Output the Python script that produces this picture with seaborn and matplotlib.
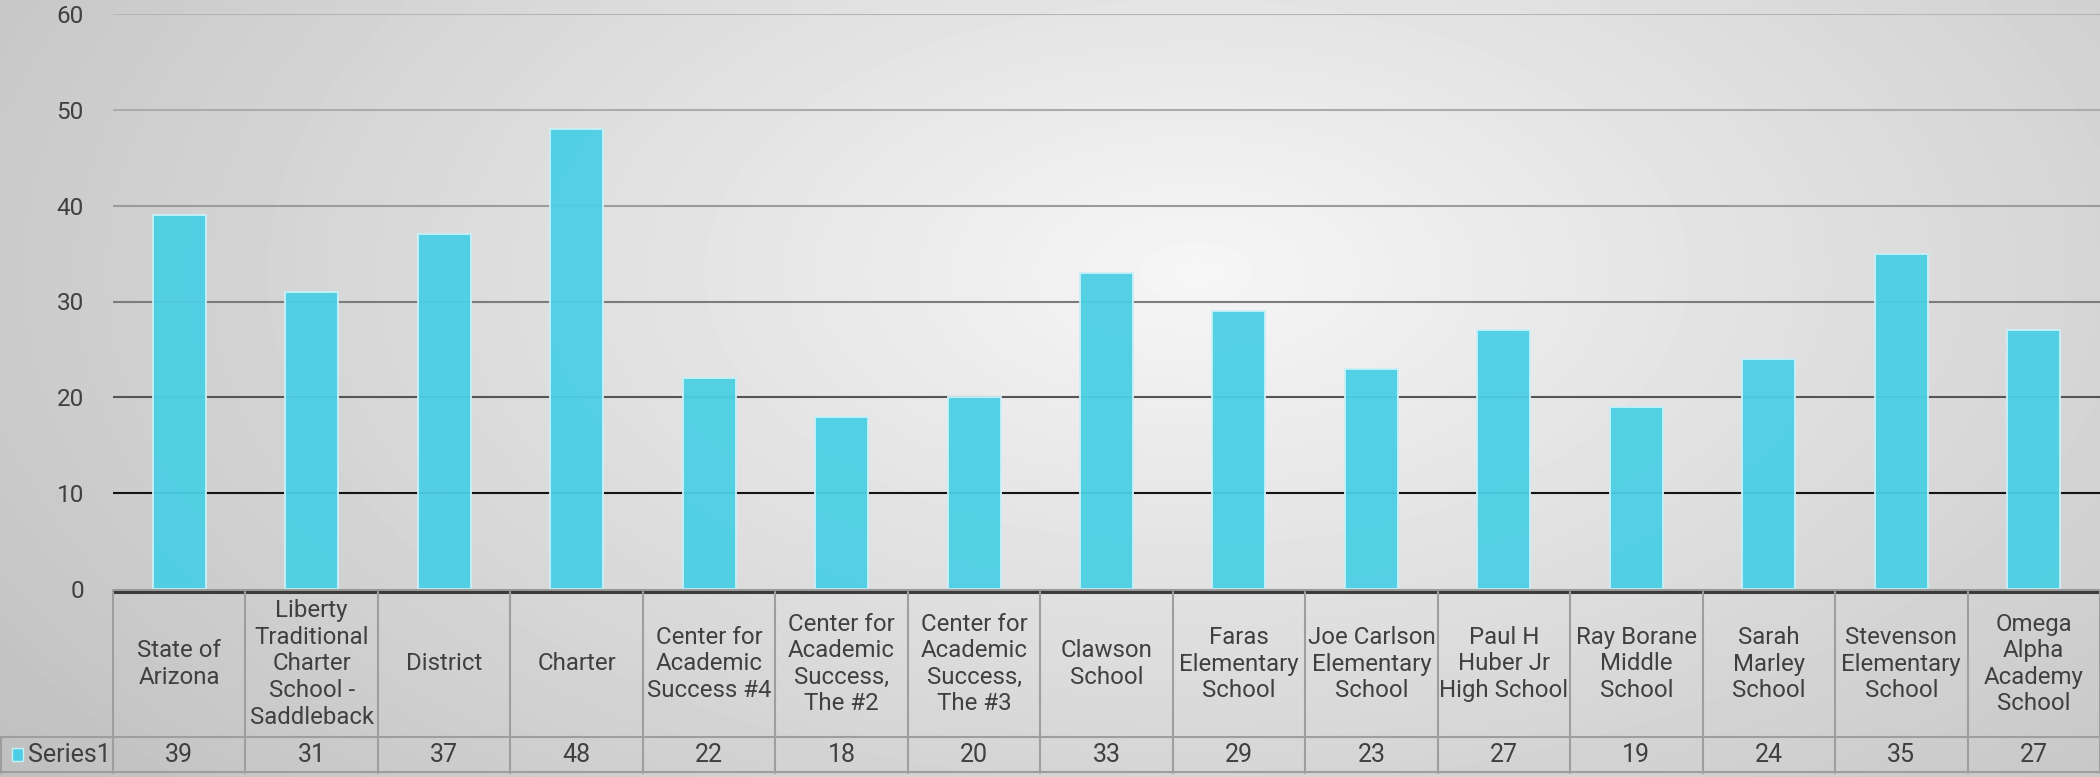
import numpy as np
import pandas as pd
import matplotlib
matplotlib.use('Agg')
import matplotlib.pyplot as plt
import seaborn as sns
from matplotlib.patches import Rectangle

# datos del grafico
escuelas = ['State of\nArizona', 'Liberty\nTraditional\nCharter\nSchool -\nSaddleback', 'District', 'Charter',
            'Center for\nAcademic\nSuccess #4', 'Center for\nAcademic\nSuccess,\nThe #2',
            'Center for\nAcademic\nSuccess,\nThe #3', 'Clawson\nSchool', 'Faras\nElementary\nSchool',
            'Joe Carlson\nElementary\nSchool', 'Paul H\nHuber Jr\nHigh School', 'Ray Borane\nMiddle\nSchool',
            'Sarah\nMarley\nSchool', 'Stevenson\nElementary\nSchool', 'Omega\nAlpha\nAcademy\nSchool']
valores = [39, 31, 37, 48, 22, 18, 20, 33, 29, 23, 27, 19, 24, 35, 27]
serie = 'Series1'
y_ticks = [0, 10, 20, 30, 40, 50, 60]
colores_grid = ['#b4b4b4', '#acacac', '#9c9c9c', '#7c7c7c', '#555555', '#141414']  # 60 -> 10

df = pd.DataFrame({'escuela': escuelas, 'valor': valores})

sns.set_style('white')
plt.rcParams['font.family'] = ['Roboto', 'DejaVu Sans']

W, H = 2100, 777
fig = plt.figure(figsize=(W / 100, H / 100), dpi=100)

# fondo degradado radial
bg = fig.add_axes([0, 0, 1, 1])
xx, yy = np.meshgrid(np.linspace(0, 1, 420), np.linspace(0, 1, 160))
d = np.sqrt(((xx - 0.57) / 0.6) ** 2 + ((yy - 0.35) / 0.9) ** 2)
grad = np.clip(0.965 - 0.18 * d, 0, 1)
bg.imshow(grad, cmap='gray', vmin=0, vmax=1, aspect='auto', extent=[0, 1, 1, 0], interpolation='bicubic')
bg.axis('off')

x0, y_top, y_zero = 113, 14, 589
y_row, y_bot = 737, 773
ax = fig.add_axes([x0 / W, (H - y_zero) / H, (W - x0) / W, (y_zero - y_top) / H])
ax.patch.set_alpha(0)

for t, c in zip(y_ticks[::-1][:-1], colores_grid):
    ax.axhline(t, color=c, lw=1.5, zorder=1)

sns.barplot(data=df, x='escuela', y='valor', color='#4ccfe4', saturation=1, width=0.4,
            edgecolor='#c8f0f7', linewidth=1.4, alpha=0.95, ax=ax, zorder=2)

ax.set_ylim(0, 60)
ax.set_xlim(-0.5, len(escuelas) - 0.5)
ax.set_yticks(y_ticks)
ax.set_yticklabels([str(t) for t in y_ticks], fontsize=17.5, color='#404040')
ax.tick_params(axis='y', length=0, pad=21)
ax.set_xticks([])
ax.set_xlabel('')
ax.set_ylabel('')
for s in ax.spines.values():
    s.set_visible(False)

# tabla de datos debajo
tab = fig.add_axes([x0 / W, (H - y_bot) / H, (W - x0) / W, (y_bot - y_zero) / H])
tab.patch.set_alpha(0)
tab.set_xlim(-0.5, len(escuelas) - 0.5)
tab.set_ylim(y_bot, y_zero)
tab.axis('off')
col_w = (W - x0) / len(escuelas)
left = -0.5 - x0 / col_w

tab.axhline(y_zero + 1, color='#9a9a9a', lw=1.5, clip_on=False)
tab.plot([-0.5, len(escuelas) - 0.5], [y_zero + 3, y_zero + 3], color='#3c3c3c', lw=2.2, clip_on=False)
for i in range(len(escuelas) + 1):
    tab.plot([i - 0.5, i - 0.5], [y_zero + 3, y_bot], color='#9e9e9e', lw=1.5, clip_on=False)
tab.plot([left, len(escuelas) - 0.5], [y_row, y_row], color='#9e9e9e', lw=1.5, clip_on=False)
tab.plot([left, len(escuelas) - 0.5], [y_bot - 1, y_bot - 1], color='#9e9e9e', lw=1.5, clip_on=False)
tab.plot([left + 0.01, left + 0.01], [y_row, y_bot], color='#9e9e9e', lw=1.5, clip_on=False)

for i, (lab, v) in enumerate(zip(escuelas, valores)):
    tab.text(i, (y_zero + y_row) / 2 + 1, lab, ha='center', va='center', fontsize=17.3,
             color='#404040', linespacing=1.2)
    tab.text(i, (y_row + y_bot) / 2, str(v), ha='center', va='center', fontsize=18, color='#404040')

tab.text(left + 28 / col_w, (y_row + y_bot) / 2, serie, ha='left', va='center', fontsize=18, color='#404040')
tab.add_patch(Rectangle((left + 12 / col_w, 748), 11 / col_w, 13, facecolor='#4ccfe4',
                        edgecolor='#c8f0f7', lw=1, clip_on=False))

fig.savefig('out.png', dpi=100)
